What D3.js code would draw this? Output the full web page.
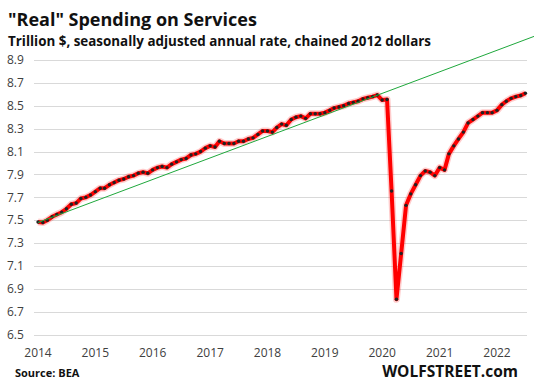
<!DOCTYPE html>
<html>
<head>
<meta charset="utf-8">
<script src="https://cdn.jsdelivr.net/npm/d3@7"></script>
<style>
  body { margin: 0; background: #fff; }
  svg { display: block; font-family: "Open Sans", "DejaVu Sans", sans-serif; }
</style>
</head>
<body>
<div id="chart"></div>
<script>
// monthly, Jan 2014 .. Jul 2022, trillion $ (chained 2012)
const startMonth = "2014-01";
const values = [
  7.485, 7.48, 7.50, 7.53, 7.55, 7.57, 7.60, 7.64, 7.65, 7.69, 7.70, 7.72,   // 2014
  7.75, 7.78, 7.78, 7.81, 7.83, 7.85, 7.86, 7.88, 7.89, 7.91, 7.92, 7.91,    // 2015
  7.94, 7.96, 7.97, 7.96, 7.99, 8.01, 8.03, 8.04, 8.07, 8.08, 8.10, 8.13,    // 2016
  8.15, 8.14, 8.19, 8.17, 8.17, 8.17, 8.19, 8.19, 8.21, 8.22, 8.25, 8.28,    // 2017
  8.28, 8.27, 8.31, 8.34, 8.33, 8.38, 8.40, 8.41, 8.39, 8.43, 8.43, 8.43,    // 2018
  8.44, 8.46, 8.48, 8.49, 8.50, 8.52, 8.53, 8.54, 8.56, 8.57, 8.58, 8.594,   // 2019
  8.55, 8.555, 7.755, 6.81, 7.21, 7.63, 7.73, 7.81, 7.89, 7.93, 7.92, 7.89,  // 2020
  7.96, 7.94, 8.08, 8.15, 8.21, 8.27, 8.35, 8.38, 8.41, 8.44, 8.44, 8.44,    // 2021
  8.46, 8.51, 8.54, 8.565, 8.58, 8.59, 8.61                                  // 2022
];
const yTicks = [6.5, 6.7, 6.9, 7.1, 7.3, 7.5, 7.7, 7.9, 8.1, 8.3, 8.5, 8.7, 8.9];
const xTickYears = [2014, 2015, 2016, 2017, 2018, 2019, 2020, 2021, 2022];
// green trend line end points
const trendDates = ["2014-01", "2022-09"];
const trendValues = [7.48, 9.11];

const width = 534, height = 385;
const parse = d3.timeParse("%Y-%m");
const t0 = parse(startMonth);
const data = values.map((v, i) => ({ date: d3.timeMonth.offset(t0, i), value: v }));
const trend = trendDates.map((d, i) => ({ date: parse(d), value: trendValues[i] }));

const svg = d3.select("#chart").append("svg")
  .attr("width", width)
  .attr("height", height);

const x = d3.scaleTime()
  .domain([new Date(2014, 0, 1), new Date(2022, 0, 1)])
  .range([38, 497]);
const y = d3.scaleLinear()
  .domain([6.5, 8.9])
  .range([334.7, 60]);

// gridlines
svg.append("g")
  .selectAll("line")
  .data(yTicks)
  .join("line")
  .attr("x1", 34).attr("x2", 527)
  .attr("y1", d => Math.round(y(d)) + 0.5)
  .attr("y2", d => Math.round(y(d)) + 0.5)
  .attr("stroke", "#d9d9d9")
  .attr("stroke-width", 1);

// y labels
svg.append("g")
  .selectAll("text")
  .data(yTicks)
  .join("text")
  .attr("x", 7)
  .attr("y", d => y(d))
  .attr("dy", "0.35em")
  .attr("font-size", 12)
  .attr("fill", "#404040")
  .text(d => d.toFixed(1));

// x labels
svg.append("g")
  .selectAll("text")
  .data(xTickYears)
  .join("text")
  .attr("x", d => x(new Date(d, 0, 1)))
  .attr("y", 357)
  .attr("text-anchor", "middle")
  .attr("font-size", 12)
  .attr("fill", "#404040")
  .text(d => d);

const line = d3.line()
  .x(d => x(d.date))
  .y(d => y(d.value));

// soft glow under the red line
svg.append("path")
  .datum(data)
  .attr("d", line)
  .attr("fill", "none")
  .attr("stroke", "#ff0000")
  .attr("stroke-opacity", 0.2)
  .attr("stroke-width", 7)
  .attr("stroke-linejoin", "round");

svg.append("path")
  .datum(data)
  .attr("d", line)
  .attr("fill", "none")
  .attr("stroke", "#ff0000")
  .attr("stroke-width", 4)
  .attr("stroke-linejoin", "round");

svg.append("g")
  .selectAll("circle")
  .data(data)
  .join("circle")
  .attr("cx", d => x(d.date))
  .attr("cy", d => y(d.value))
  .attr("r", 1.7)
  .attr("fill", "#222");

// trend line
svg.append("path")
  .datum(trend)
  .attr("d", line)
  .attr("fill", "none")
  .attr("stroke", "#1fa83c")
  .attr("stroke-width", 1);

// titles
svg.append("text")
  .attr("x", 8).attr("y", 25.5)
  .attr("font-size", 18)
  .attr("font-weight", "bold")
  .attr("fill", "#111")
  .text('"Real" Spending on Services');

svg.append("text")
  .attr("x", 8).attr("y", 46)
  .attr("font-size", 13.4)
  .attr("font-weight", "bold")
  .attr("fill", "#111")
  .text("Trillion $, seasonally adjusted annual rate, chained 2012 dollars");

svg.append("text")
  .attr("x", 15).attr("y", 377)
  .attr("font-size", 11)
  .attr("font-weight", "bold")
  .attr("fill", "#111")
  .text("Source: BEA");

svg.append("text")
  .attr("x", 518).attr("y", 377)
  .attr("text-anchor", "end")
  .attr("font-size", 15.5)
  .attr("font-weight", "bold")
  .attr("fill", "#111")
  .text("WOLFSTREET.com");
</script>
</body>
</html>
